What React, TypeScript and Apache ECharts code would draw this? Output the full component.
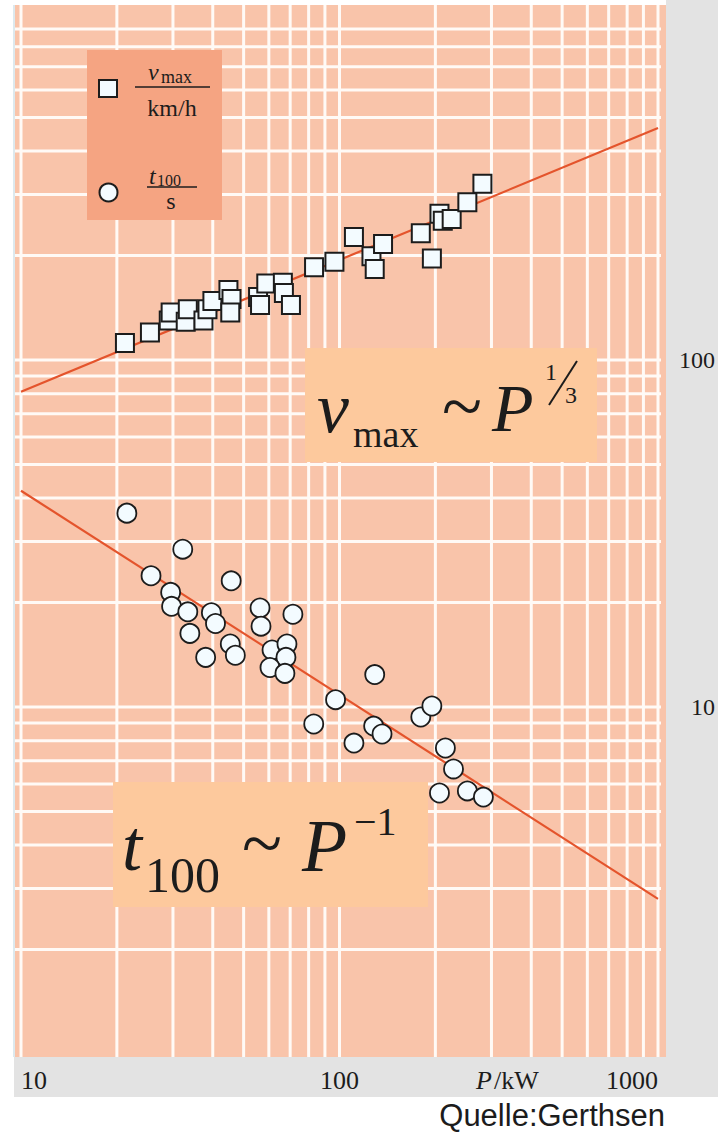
import React, { useEffect, useRef } from "react";
import * as echarts from "echarts";

// Engine power P in kW and top speed v_max in km/h
const powerVmax = [21.2, 25.4, 29.1, 29.5, 32.9, 33.4, 37.4, 38.5, 39.9, 44.8, 45.8, 45.4, 55.5, 56.3, 58.9, 66.4, 66.9, 70.4, 83.2, 96.4, 111, 126, 129, 137, 180, 195, 206, 211, 225, 252, 281];
const vmax = [112, 120, 130, 137, 129, 140, 130, 140, 148, 159, 150, 137, 152, 144, 166, 167, 156, 144, 185, 192, 226, 199, 183, 216, 232, 196, 264, 252, 255, 285, 322];

// Engine power P in kW and 0-100 km/h time t_100 in s
const powerT100 = [21.5, 32.2, 25.6, 45.7, 29.5, 29.7, 33.4, 39.6, 40.8, 33.9, 56.3, 56.7, 71.4, 38.0, 45.4, 47.1, 61.4, 68.4, 67.9, 60.5, 67.4, 97.2, 83.0, 111, 129, 128, 136, 180, 195, 215, 228, 206, 252, 283];
const t100 = [36.2, 28.5, 23.9, 23.1, 21.4, 19.5, 18.8, 18.7, 17.4, 16.3, 19.3, 17.1, 18.5, 13.9, 15.2, 14.1, 14.6, 15.2, 13.9, 13.0, 12.5, 10.5, 8.93, 7.87, 12.4, 8.81, 8.36, 9.36, 10.07, 7.62, 6.63, 5.65, 5.73, 5.5];

// Power-law fit lines, evaluated at the ends of the power axis
const fitPower = [10, 1000];
const vmaxFit = [81, 466];
const t100Fit = [42, 2.8];

// Logarithmic grid lines
const xGridValues = [10, 20, 30, 40, 50, 60, 70, 80, 90, 100, 200, 300, 400, 500, 600, 700, 800, 900, 1000];
const yGridValues = [2, 3, 4, 5, 6, 7, 8, 9, 10, 20, 30, 40, 50, 60, 70, 80, 90, 100, 200, 300, 400, 500, 600, 700, 800, 900];

// Tick labels
const xTickLabels = ["10", "100", "1000"];
const yTickLabels = ["10", "100"];

const SERIF = "'Liberation Serif', 'Times New Roman', serif";
const SANS = "'Liberation Sans', Arial, sans-serif";
const INK = "#1c1c1c";
const GRID_WHITE = "#fffaf6";
const FIT_RED = "#e4542c";
const MARKER_FILL = "#f3fbff";

function txt(text: string, x: number, y: number, font: string, align = "left", z = 6) {
  return {
    type: "text",
    z,
    silent: true,
    style: {
      text,
      x,
      y,
      font,
      fill: INK,
      textAlign: align,
      align,
      textVerticalAlign: "middle",
      verticalAlign: "middle",
    },
  };
}

function rect(x: number, y: number, width: number, height: number, fill: string, z: number) {
  return { type: "rect", z, silent: true, shape: { x, y, width, height }, style: { fill } };
}

function line(x1: number, y1: number, x2: number, y2: number, width: number, z = 6) {
  return {
    type: "line",
    z,
    silent: true,
    shape: { x1, y1, x2, y2 },
    style: { stroke: INK, lineWidth: width },
  };
}

export default function App() {
  const ref = useRef<HTMLDivElement>(null);

  useEffect(() => {
    if (!ref.current) return;
    const chart = echarts.init(ref.current, undefined, { renderer: "svg" });

    const roundLabel = (v: number) => String(Math.round(v));

    const option = {
      animation: false,
      grid: { left: 21, right: 55, top: 13, bottom: 81 },
      xAxis: {
        type: "log",
        logBase: 10,
        min: 10,
        max: 1000,
        axisLine: { show: false },
        axisTick: { show: false },
        splitLine: { show: false },
        axisLabel: {
          formatter: (v: number) => (xTickLabels.includes(roundLabel(v)) ? roundLabel(v) : ""),
          margin: 13,
          fontSize: 26,
          fontFamily: SERIF,
          color: INK,
          alignMinLabel: "left",
          alignMaxLabel: "right",
          showMinLabel: true,
          showMaxLabel: true,
        },
      },
      yAxis: {
        type: "log",
        logBase: 10,
        min: 1,
        max: 1000,
        position: "right",
        axisLine: { show: false },
        axisTick: { show: false },
        splitLine: { show: false },
        axisLabel: {
          formatter: (v: number) => (yTickLabels.includes(roundLabel(v)) ? roundLabel(v) : ""),
          align: "right",
          margin: 57,
          fontSize: 24,
          fontFamily: SERIF,
          color: INK,
        },
      },
      graphic: [
        // page backgrounds
        rect(666, 0, 52, 1097, "#e3e3e3", -2),
        rect(14, 1057, 704, 40, "#e3e3e3", -2),
        rect(13, 5, 2, 1052, "#dde9ee", -2),
        rect(15, 5, 651, 1052, "#f9c4aa", -1),

        // legend
        rect(87, 50, 135, 170, "#f5a482", 3),
        {
          type: "rect",
          z: 6,
          silent: true,
          shape: { x: 99, y: 80, width: 18, height: 17 },
          style: { fill: MARKER_FILL, stroke: INK, lineWidth: 2 },
        },
        txt("v", 148, 72, `italic 24px ${SERIF}`),
        txt("max", 161, 77, `18px ${SERIF}`),
        line(135, 87, 210, 87, 1.5),
        txt("km/h", 172, 108, `24px ${SERIF}`, "center"),
        {
          type: "circle",
          z: 6,
          silent: true,
          shape: { cx: 108.5, cy: 192.5, r: 9 },
          style: { fill: MARKER_FILL, stroke: INK, lineWidth: 2 },
        },
        txt("t", 149, 176, `italic 24px ${SERIF}`),
        txt("100", 157, 180, `16px ${SERIF}`),
        line(147, 187, 197, 187, 1.5),
        txt("s", 171, 201, `24px ${SERIF}`, "center"),

        // v_max ~ P^(1/3)
        rect(305, 348, 292, 114, "#fdc99d", 3),
        txt("v", 317, 408, `italic 72px ${SERIF}`),
        txt("max", 353, 434, `38px ${SERIF}`),
        txt("~", 462, 406, `74px ${SERIF}`, "center"),
        txt("P", 492, 408, `italic 68px ${SERIF}`),
        txt("1", 551, 372, `24px ${SERIF}`, "center"),
        line(549, 405, 577, 361, 2),
        txt("3", 571, 395, `24px ${SERIF}`, "center"),

        // t_100 ~ P^-1
        rect(113, 782, 315, 125, "#fdc99d", 3),
        txt("t", 122, 846, `italic 72px ${SERIF}`),
        txt("100", 145, 875, `50px ${SERIF}`),
        txt("~", 262, 843, `74px ${SERIF}`, "center"),
        txt("P", 302, 846, `italic 74px ${SERIF}`),
        txt("\u22121", 354, 821, `40px ${SERIF}`),

        // axis name and source
        txt("P", 476, 1080, `italic 26px ${SERIF}`),
        txt("/kW", 494, 1080, `26px ${SERIF}`),
        txt("Quelle:Gerthsen", 665, 1115, `31px ${SANS}`, "right"),
      ],
      series: [
        {
          type: "custom",
          name: "vertical grid",
          z: 1,
          silent: true,
          data: xGridValues.map((v) => [v, 1]),
          renderItem: (params: any, api: any) => {
            const x = api.coord([api.value(0), 1])[0];
            const cs = params.coordSys;
            return {
              type: "line",
              shape: { x1: x, y1: cs.y - 8, x2: x, y2: cs.y + cs.height + 3 },
              style: { stroke: GRID_WHITE, lineWidth: 3 },
            };
          },
        },
        {
          type: "custom",
          name: "horizontal grid",
          z: 1,
          silent: true,
          data: yGridValues.map((v) => [10, v]),
          renderItem: (params: any, api: any) => {
            const y = api.coord([10, api.value(1)])[1];
            const cs = params.coordSys;
            return {
              type: "line",
              shape: { x1: cs.x - 6, y1: y, x2: cs.x + cs.width + 3, y2: y },
              style: { stroke: GRID_WHITE, lineWidth: 3 },
            };
          },
        },
        {
          type: "line",
          name: "v_max fit",
          z: 4,
          silent: true,
          symbol: "none",
          data: fitPower.map((p, i) => [p, vmaxFit[i]]),
          lineStyle: { color: FIT_RED, width: 2.2 },
        },
        {
          type: "line",
          name: "t_100 fit",
          z: 4,
          silent: true,
          symbol: "none",
          data: fitPower.map((p, i) => [p, t100Fit[i]]),
          lineStyle: { color: FIT_RED, width: 2.2 },
        },
        {
          type: "scatter",
          name: "v_max",
          z: 5,
          symbol: "rect",
          symbolSize: 18,
          data: powerVmax.map((p, i) => [p, vmax[i]]),
          itemStyle: { color: MARKER_FILL, borderColor: INK, borderWidth: 2, opacity: 1 },
        },
        {
          type: "scatter",
          name: "t_100",
          z: 5,
          symbol: "circle",
          symbolSize: 19,
          data: powerT100.map((p, i) => [p, t100[i]]),
          itemStyle: { color: MARKER_FILL, borderColor: INK, borderWidth: 1.8, opacity: 1 },
        },
      ],
    };

    chart.setOption(option as any);
    return () => chart.dispose();
  }, []);

  return (
    <div
      ref={ref}
      style={{ position: "fixed", left: 0, top: 0, width: 718, height: 1135, background: "#ffffff" }}
    />
  );
}
